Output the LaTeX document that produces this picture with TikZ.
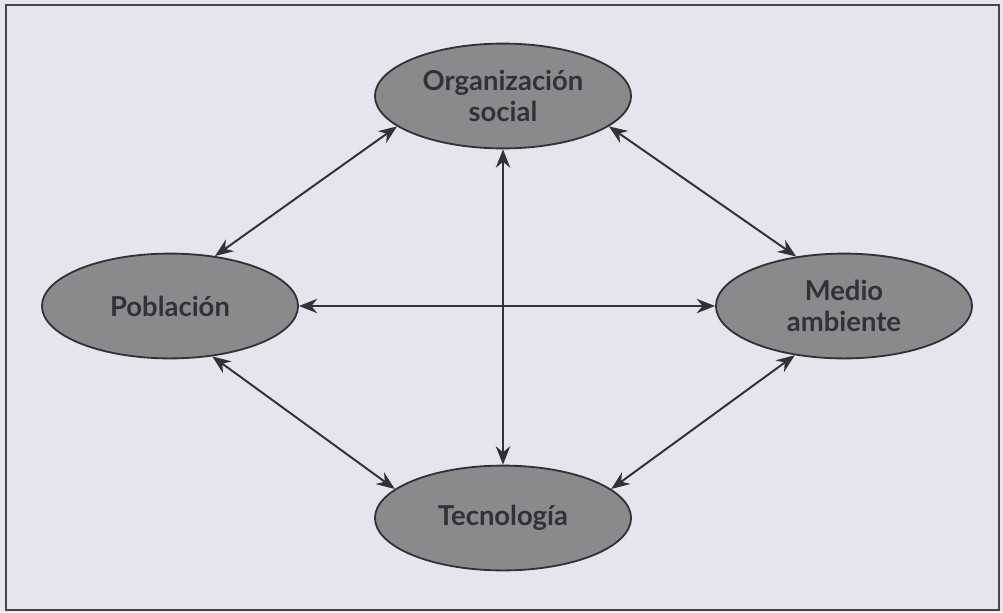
\documentclass[tikz,border=0pt]{standalone}
\usepackage{fontspec}
\setmainfont{Lato}
\usepackage{tikz}
\usetikzlibrary{arrows.meta, shapes.geometric}
\usepackage{xcolor}

\definecolor{paper}{RGB}{229,230,237}
\definecolor{oval}{RGB}{138,138,141}
\definecolor{ink}{RGB}{50,50,54}

\begin{document}
\begin{tikzpicture}[x=0.025cm, y=-0.025cm,
	factor/.style={ellipse, draw=ink, line width=1.3pt, fill=oval, inner sep=0pt,
		minimum width=6.4cm, minimum height=2.62cm, align=center, text=ink,
		font=\bfseries\fontsize{19.5}{22}\selectfont},
	link/.style={{Stealth[length=4.6mm,width=3.6mm]}-{Stealth[length=4.6mm,width=3.6mm]}, draw=ink, line width=1.4pt}]
	\fill[paper] (0,0) rectangle (1003,612);
	\draw[ink!90, line width=2pt] (6,5) rectangle (999,610);
%	the four factors
	\node[factor, name=org] at (503,96) {Organización\\social};
	\node[factor, name=pob] at (170,306) {Población};
	\node[factor, name=med] at (844,306) {Medio\\ambiente};
	\node[factor, name=tec] at (503,518) {Tecnología};
%	every pair is linked both ways
	\draw[link] (org.196) -- (pob.48);
	\draw[link] (org.-16) -- (med.134);
	\draw[link] (pob.-50) -- (tec.165);
	\draw[link] (med.225) -- (tec.15);
	\draw[link] (pob) -- (med);
	\draw[link] (org) -- (tec);
\end{tikzpicture}
\end{document}
